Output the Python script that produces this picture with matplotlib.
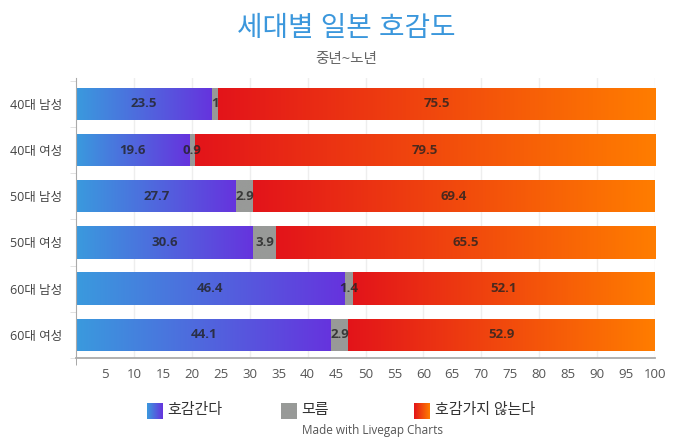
import matplotlib
matplotlib.use('Agg')
import matplotlib.pyplot as plt
from matplotlib import rcParams
from matplotlib.colors import LinearSegmentedColormap
import numpy as np

rcParams['font.family'] = ['Open Sans', 'Noto Sans CJK KR', 'DejaVu Sans']

categories = ['40대 남성', '40대 여성', '50대 남성', '50대 여성', '60대 남성', '60대 여성']
series_names = ['호감간다', '모름', '호감가지 않는다']
like = [23.5, 19.6, 27.7, 30.6, 46.4, 44.1]
unknown = [1, 0.9, 2.9, 3.9, 1.4, 2.9]
dislike = [75.5, 79.5, 69.4, 65.5, 52.1, 52.9]
x_ticks = list(range(5, 101, 5))

series = [like, unknown, dislike]
gradients = [('#3a9ade', '#6633dd'), ('#989a98', '#989a98'), ('#e3141a', '#ff7d00')]

fig = plt.figure(figsize=(6.93, 4.44), dpi=100)
ax = fig.add_axes([0.1097, 0.194, 0.8355, 0.630])

y = np.arange(len(categories))
grad = np.linspace(0, 1, 256).reshape(1, -1)
left = np.zeros(len(categories))
for vals, (c0, c1) in zip(series, gradients):
    cmap = LinearSegmentedColormap.from_list('g', [c0, c1])
    bars = ax.barh(y, vals, left=left, height=0.7, color='none', edgecolor='none')
    for bar, v, l, yi in zip(bars, vals, left, y):
        x0, y0 = bar.get_x(), bar.get_y()
        w, h = bar.get_width(), bar.get_height()
        im = ax.imshow(grad, extent=[x0, x0 + w, y0 + h, y0], cmap=cmap,
                       aspect='auto', interpolation='bicubic', zorder=2)
        im.set_clip_path(bar)
        ax.text(l + v / 2, yi, f'{v:g}', ha='center', va='center', fontsize=9.5,
                fontweight='bold', color='#222222', alpha=0.8, zorder=3)
    left = left + np.array(vals)

ax.set_xlim(0, 100)
ax.set_ylim(len(categories) - 0.5, -0.56)
ax.set_xticks(x_ticks)
ax.set_xticklabels([str(t) for t in x_ticks], fontsize=9.5, color='#555555')
ax.set_xticks([0], minor=True)
ax.set_yticks(y)
ax.set_yticklabels(categories, fontsize=9, color='#444444')
ax.set_yticks(np.arange(len(categories) + 1) - 0.5, minor=True)
ax.tick_params(axis='y', which='major', length=0, pad=10)
ax.tick_params(axis='y', which='minor', length=4, color='#dddddd')
ax.tick_params(axis='x', which='major', length=0, pad=7)
ax.tick_params(axis='x', which='minor', length=5, color='#999999')
for gx in range(10, 101, 10):
    ax.axvline(gx, color='#eeeeee', lw=1, zorder=0)
for s in ['top', 'right']:
    ax.spines[s].set_visible(False)
ax.spines['left'].set_color('#aaaaaa')
ax.spines['bottom'].set_color('#aaaaaa')
ax.spines['bottom'].set_linewidth(1.3)

fig.text(0.5, 0.935, '세대별 일본 호감도', ha='center', va='center', fontsize=20, color='#3b97dc')
fig.text(0.5, 0.866, '중년~노년', ha='center', va='center', fontsize=10.5, color='#666666')

# legend
leg_x = [0.212, 0.405, 0.598]
for name, (c0, c1), lx in zip(series_names, gradients, leg_x):
    lax = fig.add_axes([lx, 0.0563, 0.023, 0.036])
    lax.imshow(grad, cmap=LinearSegmentedColormap.from_list('g', [c0, c1]), aspect='auto')
    lax.set_axis_off()
    fig.text(lx + 0.03, 0.075, name, ha='left', va='center', fontsize=10.8, color='#333333')

fig.text(0.537, 0.03, 'Made with Livegap Charts', ha='center', va='center', fontsize=8.5, color='#555555')

fig.savefig('out.png', dpi=100)
plt.close(fig)
